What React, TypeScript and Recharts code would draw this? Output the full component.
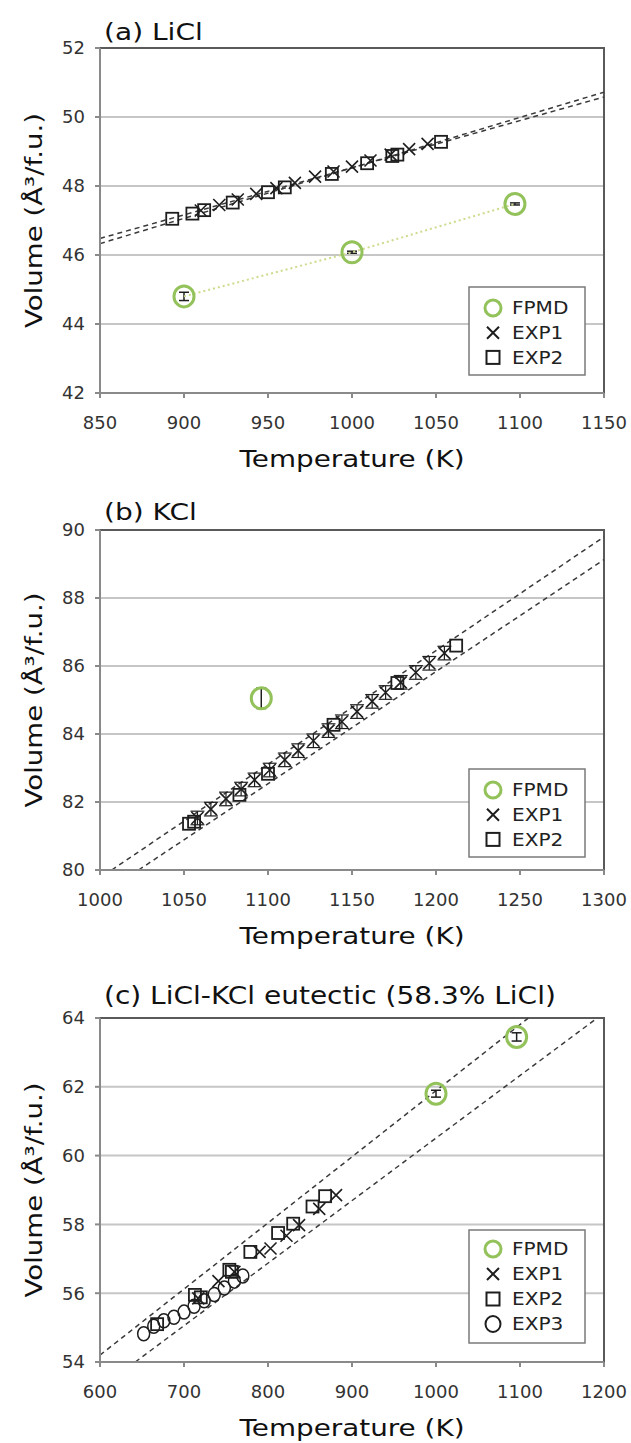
import React from 'react';
import {
  ScatterChart, Scatter, XAxis, YAxis, CartesianGrid, ReferenceLine,
  ReferenceArea, ErrorBar, Legend,
} from 'recharts';

const FONT = '"DejaVu Sans", Verdana, sans-serif';

// ---------- (a) LiCl ----------
const liclXTicks = [850, 900, 950, 1000, 1050, 1100, 1150];
const liclYTicks = [42, 44, 46, 48, 50, 52];
const liclFpmd = [
  { t: 900, v: 44.8, err: 0.12 },
  { t: 1000, v: 46.08, err: 0.03 },
  { t: 1097, v: 47.48, err: 0.03 },
];
const liclExp1T = [910, 921, 932, 943, 955, 966, 978, 989, 1000, 1011, 1023, 1034, 1045];
const liclExp1V = [47.29, 47.45, 47.61, 47.77, 47.94, 48.09, 48.27, 48.42, 48.56, 48.74, 48.91, 49.07, 49.22];
const liclExp2T = [893, 905, 912, 929, 950, 960, 988, 1009, 1024, 1027, 1053];
const liclExp2V = [47.05, 47.2, 47.3, 47.52, 47.82, 47.96, 48.35, 48.66, 48.87, 48.91, 49.28];
const liclFitA = [{ t: 850, v: 46.33 }, { t: 1150, v: 50.72 }];
const liclFitB = [{ t: 850, v: 46.48 }, { t: 1150, v: 50.58 }];

// ---------- (b) KCl ----------
const kclXTicks = [1000, 1050, 1100, 1150, 1200, 1250, 1300];
const kclYTicks = [80, 82, 84, 86, 88, 90];
const kclFpmd = [{ t: 1096, v: 85.05, err: 0.3 }];
const kclExp1T = [1058, 1066, 1075, 1084, 1092, 1101, 1110, 1118, 1127, 1136, 1144, 1153, 1162, 1170, 1179, 1188, 1196, 1205];
const kclExp1V = [81.53, 81.79, 82.09, 82.38, 82.65, 82.94, 83.24, 83.51, 83.8, 84.1, 84.36, 84.66, 84.96, 85.22, 85.52, 85.81, 86.08, 86.38];
const kclExp2T = [1053, 1056, 1083, 1100, 1139, 1177, 1212];
const kclExp2V = [81.36, 81.42, 82.21, 82.83, 84.27, 85.5, 86.6];
const kclFitA = [{ t: 1007, v: 80 }, { t: 1300, v: 89.8 }];
const kclFitB = [{ t: 1023, v: 80 }, { t: 1300, v: 89.13 }];

// ---------- (c) LiCl-KCl eutectic ----------
const eutXTicks = [600, 700, 800, 900, 1000, 1100, 1200];
const eutYTicks = [54, 56, 58, 60, 62, 64];
const eutFpmd = [
  { t: 1000, v: 61.8, err: 0.1 },
  { t: 1096, v: 63.45, err: 0.12 },
];
const eutExp1T = [717, 741, 760, 790, 803, 822, 837, 861, 881];
const eutExp1V = [55.85, 56.35, 56.62, 57.2, 57.3, 57.67, 57.98, 58.45, 58.85];
const eutExp2T = [668, 713, 720, 754, 757, 779, 812, 830, 853, 868];
const eutExp2V = [55.1, 55.95, 55.88, 56.68, 56.62, 57.2, 57.75, 58.02, 58.52, 58.82];
const eutExp3T = [652, 664, 676, 688, 700, 712, 724, 736, 748, 760, 770];
const eutExp3V = [54.82, 55.04, 55.2, 55.3, 55.45, 55.62, 55.78, 55.96, 56.15, 56.35, 56.5];
const eutFitA = [{ t: 600, v: 54.2 }, { t: 1110, v: 64 }];
const eutFitB = [{ t: 642, v: 54 }, { t: 1192, v: 64 }];

const zip = (ts: number[], vs: number[], err?: number) =>
  ts.map((t, i) => (err === undefined ? { t, v: vs[i] } : { t, v: vs[i], err }));

const GREEN = '#93c25b';
const INK = '#1e1e1e';

const GreenRing = (p: any) => (
  <ellipse cx={p.cx} cy={p.cy} rx={10} ry={10.5} fill="none" stroke={GREEN} strokeWidth={3} />
);
const XMark = (p: any) => {
  const s = 6;
  return (
    <path
      d={`M${p.cx - s},${p.cy - s}L${p.cx + s},${p.cy + s}M${p.cx - s},${p.cy + s}L${p.cx + s},${p.cy - s}`}
      stroke={INK} strokeWidth={1.6} fill="none"
    />
  );
};
const SquareMark = (p: any) => (
  <rect x={p.cx - 6} y={p.cy - 6} width={12} height={12} fill="none" stroke={INK} strokeWidth={1.8} />
);
const RingMark = (p: any) => (
  <ellipse cx={p.cx} cy={p.cy} rx={6} ry={7} fill="none" stroke={INK} strokeWidth={1.5} />
);

type LegendItem = { name: string; kind: 'fpmd' | 'x' | 'sq' | 'ring' };

const legendMarker = (kind: string, cx: number, cy: number) => {
  if (kind === 'fpmd') return <ellipse cx={cx} cy={cy} rx={8} ry={8} fill="none" stroke={GREEN} strokeWidth={3} />;
  if (kind === 'x') return <path d={`M${cx - 6},${cy - 6}L${cx + 6},${cy + 6}M${cx - 6},${cy + 6}L${cx + 6},${cy - 6}`} stroke={INK} strokeWidth={2} />;
  if (kind === 'sq') return <rect x={cx - 6.5} y={cy - 6.5} width={13} height={13} fill="none" stroke={INK} strokeWidth={2} />;
  return <ellipse cx={cx} cy={cy} rx={7.5} ry={8} fill="none" stroke={INK} strokeWidth={2} />;
};

const makeLegend = (items: LegendItem[], w: number, h: number, firstRow: number, step: number) => () => (
  <svg width={w} height={h} style={{ display: 'block' }}>
    <rect x={1} y={1} width={w - 2} height={h - 2} fill="#fff" stroke="#7a7a7a" strokeWidth={1.5} />
    {items.map((it, i) => {
      const cy = firstRow + i * step;
      return (
        <g key={it.name}>
          {legendMarker(it.kind, 25, cy)}
          <text
            transform={`translate(44,${cy + 6.3}) scale(1.18,1)`}
            fontFamily={FONT} fontSize={17} fill="#222"
          >
            {it.name}
          </text>
        </g>
      );
    })}
  </svg>
);

const yLabel = (props: any) => {
  const vb = props.viewBox || {};
  const cy = vb.y + vb.height / 2;
  return (
    <text
      transform={`translate(42,${cy}) rotate(-90) scale(1.2,1)`}
      textAnchor="middle" fontFamily={FONT} fontSize={23} fill="#111"
    >
      Volume (Å³/f.u.)
    </text>
  );
};

const xLabel = (props: any) => {
  const vb = props.viewBox || {};
  return (
    <text
      transform={`translate(${vb.x + vb.width / 2},${vb.y + 74}) scale(1.21,1)`}
      textAnchor="middle" fontFamily={FONT} fontSize={23} fill="#111"
    >
      Temperature (K)
    </text>
  );
};

type Fit = { t: number; v: number }[];

type PanelProps = {
  top: number;
  height: number;
  marginTop: number;
  xDomain: [number, number];
  xTicks: number[];
  yDomain: [number, number];
  yTicks: number[];
  fpmd: any[];
  fpmdLine?: boolean;
  exp1: any[];
  exp1Err?: boolean;
  exp2: any[];
  exp3?: any[];
  fits: Fit[];
  legendItems: LegendItem[];
  legendBox: { left: number; top: number; w: number; h: number; first: number; step: number };
};

const tickStyle = { fontFamily: FONT, fontSize: 18, fill: '#333' };

function Panel(p: PanelProps) {
  return (
    <div style={{ position: 'absolute', left: 0, top: p.top }}>
      <ScatterChart
        width={631}
        height={p.height}
        margin={{ top: p.marginTop, right: 27, bottom: 0, left: 0 }}
      >
        <CartesianGrid horizontal vertical={false} stroke="#c6c6c6" strokeWidth={2} />
        <XAxis
          type="number" dataKey="t" domain={p.xDomain} ticks={p.xTicks} interval={0}
          allowDataOverflow height={80} tickSize={5} tickMargin={18}
          stroke="#8a8a8a" strokeWidth={2} tick={tickStyle} tickLine={{ stroke: '#8a8a8a' }}
          label={xLabel}
        />
        <YAxis
          type="number" dataKey="v" domain={p.yDomain} ticks={p.yTicks} interval={0}
          allowDataOverflow width={100} tickSize={5} tickMargin={10}
          stroke="#8a8a8a" strokeWidth={2} tick={tickStyle} tickLine={{ stroke: '#8a8a8a' }}
          label={yLabel}
        />
        <ReferenceArea
          x1={p.xDomain[0]} x2={p.xDomain[1]} y1={p.yDomain[0]} y2={p.yDomain[1]}
          fill="none" fillOpacity={0} stroke="#5a5a5a" strokeWidth={2} ifOverflow="visible"
        />
        {p.fits.map((f, i) => (
          <ReferenceLine
            key={i}
            segment={[{ x: f[0].t, y: f[0].v }, { x: f[1].t, y: f[1].v }]}
            stroke="#3a3a3a" strokeWidth={1.5} strokeDasharray="5 4" ifOverflow="visible"
          />
        ))}
        {p.exp3 && (
          <Scatter name="EXP3" data={p.exp3} shape={RingMark} isAnimationActive={false} />
        )}
        <Scatter name="EXP2" data={p.exp2} shape={SquareMark} isAnimationActive={false} />
        <Scatter name="EXP1" data={p.exp1} shape={XMark} isAnimationActive={false}>
          {p.exp1Err && (
            <ErrorBar dataKey="err" direction="y" width={7} stroke={INK} strokeWidth={1.2} isAnimationActive={false} />
          )}
        </Scatter>
        <Scatter
          name="FPMD" data={p.fpmd} shape={GreenRing} isAnimationActive={false}
          line={p.fpmdLine ? { stroke: '#cbdc8c', strokeWidth: 2, strokeDasharray: '2 3' } : false}
        >
          <ErrorBar dataKey="err" direction="y" width={5} stroke={INK} strokeWidth={1.5} isAnimationActive={false} />
        </Scatter>
        <Legend
          layout="vertical" align="center" verticalAlign="middle"
          wrapperStyle={{ left: p.legendBox.left, top: p.legendBox.top, width: p.legendBox.w, height: p.legendBox.h }}
          content={makeLegend(p.legendItems, p.legendBox.w, p.legendBox.h, p.legendBox.first, p.legendBox.step)}
        />
      </ScatterChart>
    </div>
  );
}

const items3: LegendItem[] = [
  { name: 'FPMD', kind: 'fpmd' },
  { name: 'EXP1', kind: 'x' },
  { name: 'EXP2', kind: 'sq' },
];
const items4: LegendItem[] = [...items3, { name: 'EXP3', kind: 'ring' }];

export default function App() {
  return (
    <div style={{ position: 'absolute', left: 0, top: 0, width: 631, height: 1443, background: '#fff', overflow: 'hidden' }}>
      <Panel
        top={0} height={473} marginTop={48}
        xDomain={[850, 1150]} xTicks={liclXTicks} yDomain={[42, 52]} yTicks={liclYTicks}
        fpmd={liclFpmd} fpmdLine
        exp1={zip(liclExp1T, liclExp1V)} exp2={zip(liclExp2T, liclExp2V)}
        fits={[liclFitA, liclFitB]}
        legendItems={items3}
        legendBox={{ left: 468, top: 286, w: 118, h: 90, first: 22, step: 24.7 }}
      />
      <Panel
        top={480} height={470} marginTop={50}
        xDomain={[1000, 1300]} xTicks={kclXTicks} yDomain={[80, 90]} yTicks={kclYTicks}
        fpmd={kclFpmd}
        exp1={zip(kclExp1T, kclExp1V, 0.2)} exp1Err exp2={zip(kclExp2T, kclExp2V)}
        fits={[kclFitA, kclFitB]}
        legendItems={items3}
        legendBox={{ left: 468, top: 288, w: 118, h: 90, first: 22, step: 24.7 }}
      />
      <Panel
        top={960} height={482} marginTop={58}
        xDomain={[600, 1200]} xTicks={eutXTicks} yDomain={[54, 64]} yTicks={eutYTicks}
        fpmd={eutFpmd}
        exp1={zip(eutExp1T, eutExp1V)} exp2={zip(eutExp2T, eutExp2V)} exp3={zip(eutExp3T, eutExp3V)}
        fits={[eutFitA, eutFitB]}
        legendItems={items4}
        legendBox={{ left: 468, top: 269, w: 118, h: 115, first: 20, step: 25 }}
      />
      <svg width={631} height={1443} style={{ position: 'absolute', left: 0, top: 0, pointerEvents: 'none' }}>
        <text transform="translate(104,40) scale(1.22,1)" fontFamily={FONT} fontSize={23} fill="#111">(a) LiCl</text>
        <text transform="translate(104,520) scale(1.22,1)" fontFamily={FONT} fontSize={23} fill="#111">(b) KCl</text>
        <text transform="translate(104,1004) scale(1.12,1)" fontFamily={FONT} fontSize={25} fill="#111">(c) LiCl-KCl eutectic (58.3% LiCl)</text>
      </svg>
    </div>
  );
}
